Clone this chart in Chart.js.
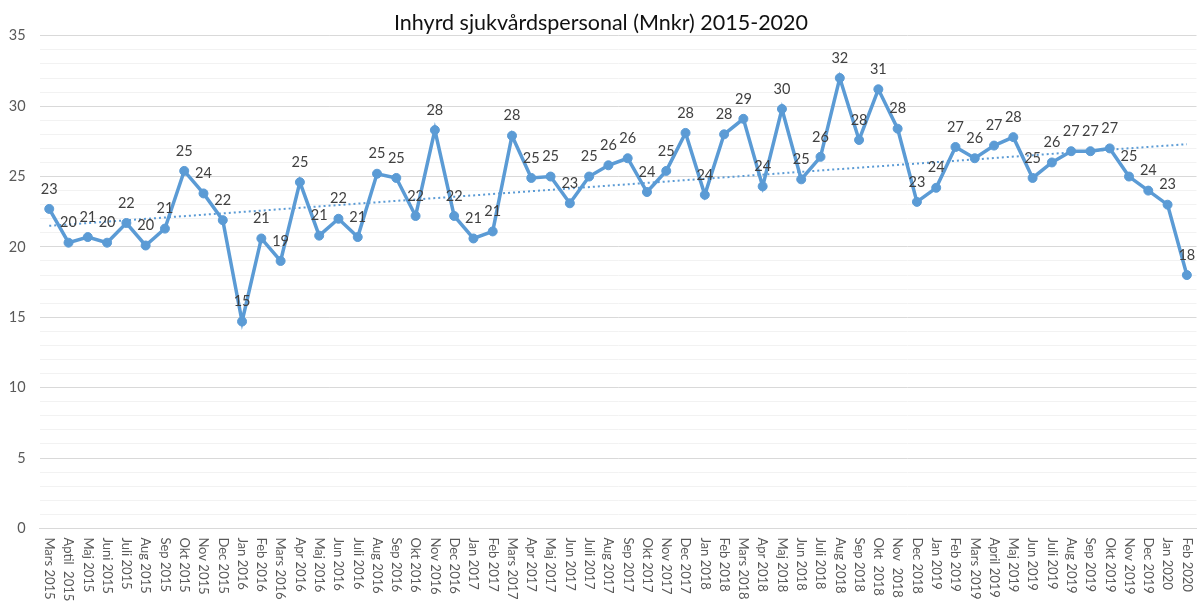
<!DOCTYPE html>
<html lang="sv">
  <head>
    <meta charset="UTF-8" />
    <title>Inhyrd sjukvårdspersonal</title>
    <script src="https://cdn.jsdelivr.net/npm/chart.js"></script>
    <style>
      html,
      body {
        margin: 0;
        padding: 0;
        background: #ffffff;
        overflow: hidden;
      }
      .chart-box {
        position: relative;
        width: 1202px;
        height: 601px;
      }
    </style>
  </head>
  <body>
    <div class="chart-box">
      <canvas id="hyrChart"></canvas>
    </div>

    <script>
      // months (as written on the original axis)
      const months = [
        "Mars 2015", "Aptil  2015", "Maj 2015", "Juni 2015", "Juli 2015", "Aug 2015",
        "Sep 2015", "Okt 2015", "Nov 2015", "Dec 2015", "Jan 2016", "Feb 2016",
        "Mars 2016", "Apr 2016", "Maj 2016", "Jun 2016", "Juli 2016", "Aug 2016",
        "Sep 2016", "Okt 2016", "Nov 2016", "Dec 2016", "Jan 2017", "Feb 2017",
        "Mars 2017", "Apr 2017", "Maj 2017", "Jun 2017", "Juli 2017", "Aug 2017",
        "Sep 2017", "Okt 2017", "Nov 2017", "Dec 2017", "Jan 2018", "Feb 2018",
        "Mars 2018", "Apr 2018", "Maj 2018", "Jun 2018", "Juli 2018", "Aug 2018",
        "Sep 2018", "Okt  2018", "Nov  2018", "Dec 2018", "Jan 2019", "Feb 2019",
        "Mars 2019", "April 2019", "Maj 2019", "Jun 2019", "Juli 2019", "Aug 2019",
        "Sep 2019", "Okt 2019", "Nov 2019", "Dec 2019", "Jan 2020", "Feb 2020",
      ];

      // Mnkr per month
      const kostnad = [
        22.7, 20.3, 20.7, 20.3, 21.7, 20.1, 21.3, 25.4, 23.8, 21.9, 14.7, 20.6,
        19.0, 24.6, 20.8, 22.0, 20.7, 25.2, 24.9, 22.2, 28.3, 22.2, 20.6, 21.1,
        27.9, 24.9, 25.0, 23.1, 25.0, 25.8, 26.3, 23.9, 25.4, 28.1, 23.7, 28.0,
        29.1, 24.3, 29.8, 24.8, 26.4, 32.0, 27.6, 31.2, 28.4, 23.2, 24.2, 27.1,
        26.3, 27.2, 27.8, 24.9, 26.0, 26.8, 26.8, 27.0, 25.0, 24.0, 23.0, 18.0,
      ];

      // linear trend, start and end
      const trendStart = 21.5;
      const trendEnd = 27.3;

      const yMajor = [0, 5, 10, 15, 20, 25, 30, 35];

      const trendData = months.map((m, i) =>
        i === 0 ? trendStart : i === months.length - 1 ? trendEnd : null
      );

      const BLUE = "#5B9BD5";

      // Excel style labels: values above points, month names rotated downward
      const excelLabels = {
        id: "excelLabels",
        afterDatasetsDraw(chart) {
          const ctx = chart.ctx;
          const meta = chart.getDatasetMeta(0);
          ctx.save();
          ctx.font = "14.5px Lato";
          ctx.fillStyle = "#404040";
          ctx.textAlign = "center";
          ctx.textBaseline = "middle";
          meta.data.forEach((pt, i) => {
            ctx.fillText(String(Math.round(kostnad[i])), pt.x, pt.y - 20);
          });

          const xs = chart.scales.x;
          ctx.font = "13px Lato";
          ctx.fillStyle = "#595959";
          ctx.textAlign = "left";
          months.forEach((m, i) => {
            const x = xs.getPixelForValue(i);
            ctx.save();
            ctx.translate(x, xs.top + 9);
            ctx.rotate(Math.PI / 2);
            ctx.fillText(m, 0, 0);
            ctx.restore();
          });
          ctx.restore();
        },
      };

      Chart.defaults.font.family = "Lato";

      new Chart(document.getElementById("hyrChart"), {
        type: "line",
        data: {
          labels: months,
          datasets: [
            {
              label: "Inhyrd sjukvårdspersonal",
              data: kostnad,
              borderColor: BLUE,
              backgroundColor: BLUE,
              borderWidth: 3.5,
              pointRadius: 4.5,
              pointBorderWidth: 1,
              pointBackgroundColor: BLUE,
              pointBorderColor: BLUE,
              tension: 0,
              order: 2,
            },
            {
              label: "Linjär trend",
              data: trendData,
              borderColor: BLUE,
              borderWidth: 2,
              borderDash: [2, 3],
              pointRadius: 0,
              spanGaps: true,
              fill: false,
              order: 1,
            },
          ],
        },
        options: {
          responsive: true,
          maintainAspectRatio: false,
          animation: false,
          layout: { padding: 0 },
          plugins: {
            legend: { display: false },
            tooltip: { enabled: false },
            title: {
              display: true,
              text: "Inhyrd sjukvårdspersonal (Mnkr) 2015-2020",
              color: "#111111",
              font: { size: 21.5, weight: "normal" },
              lineHeight: 1.1,
              padding: { top: 10, bottom: 0 },
            },
          },
          scales: {
            x: {
              offset: true,
              grid: { display: false },
              border: { display: true, color: "#d9d9d9", width: 1 },
              ticks: { display: false },
              afterFit(scale) {
                scale.height = 72.6;
              },
            },
            y: {
              min: 0,
              max: 35,
              border: { display: false },
              grid: {
                drawTicks: false,
                color: (c) =>
                  yMajor.includes(c.tick.value) ? "#d9d9d9" : "#f2f2f2",
              },
              ticks: {
                stepSize: 1,
                autoSkip: false,
                padding: 14,
                color: "#595959",
                font: { size: 14.5 },
                callback: (v) => (yMajor.includes(v) ? v : ""),
              },
              afterFit(scale) {
                scale.width = 39.6;
              },
            },
          },
        },
        plugins: [excelLabels],
      });
    </script>
  </body>
</html>
